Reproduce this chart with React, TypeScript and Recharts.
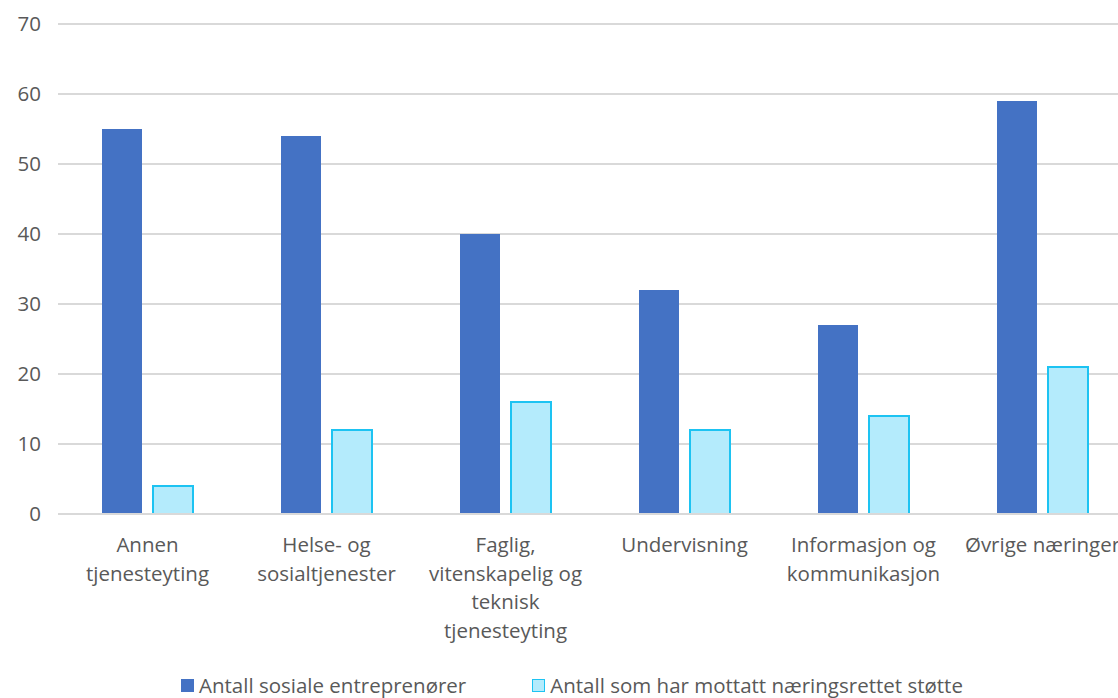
import { Bar, BarChart, CartesianGrid, Legend, XAxis, YAxis } from "recharts";

const categories = [
  "Annen\ntjenesteyting",
  "Helse- og\nsosialtjenester",
  "Faglig,\nvitenskapelig og\nteknisk\ntjenesteyting",
  "Undervisning",
  "Informasjon og\nkommunikasjon",
  "Øvrige næringer",
];
const entrepreneurs = [55, 54, 40, 32, 27, 59];
const supported = [4, 12, 16, 12, 14, 21];
const yTicks = [0, 10, 20, 30, 40, 50, 60, 70];

const seriesNames = ["Antall sosiale entreprenører", "Antall som har mottatt næringsrettet støtte"];

const data = categories.map((name, i) => ({
  name,
  entrepreneurs: entrepreneurs[i],
  supported: supported[i],
}));

const textColor = "#595959";
const font = "'Open Sans', sans-serif";
const fontSize = 20.5;

function CategoryTick(props: any) {
  const { x, y, payload } = props;
  const lines = String(payload.value).split("\n");
  return (
    <text x={x} y={y} textAnchor="middle" fill={textColor} fontSize={fontSize} fontFamily={font}>
      {lines.map((line, i) => (
        <tspan key={i} x={x} dy={i === 0 ? 30 : 28.5}>
          {line}
        </tspan>
      ))}
    </text>
  );
}

function LegendContent() {
  const swatches = [
    { fill: "#4472C4", stroke: "#4472C4" },
    { fill: "#B4EBFC", stroke: "#1DC3F2" },
  ];
  return (
    <div
      style={{
        display: "flex",
        alignItems: "center",
        height: 26,
        lineHeight: "26px",
        fontFamily: font,
        fontSize,
        color: textColor,
      }}
    >
      {seriesNames.map((label, i) => (
        <div key={label} style={{ display: "flex", alignItems: "center", marginRight: i === 0 ? 66 : 0 }}>
          <span
            style={{
              display: "inline-block",
              width: 11,
              height: 11,
              background: swatches[i].fill,
              border: `1.5px solid ${swatches[i].stroke}`,
              marginRight: 5,
            }}
          />
          <span style={{ whiteSpace: "nowrap" }}>{label}</span>
        </div>
      ))}
    </div>
  );
}

export default function App() {
  return (
    <div style={{ width: 1118, height: 698, overflow: "hidden", background: "#fff" }}>
      <style>{"body{margin:0;overflow:hidden}"}</style>
      <BarChart
        width={1150}
        height={698}
        data={data}
        margin={{ top: 24, right: 18, bottom: 0, left: 0 }}
        barCategoryGap={44}
        barGap={11}
      >
        <CartesianGrid vertical={false} stroke="#D9D9D9" strokeWidth={2} />
        <XAxis
          dataKey="name"
          interval={0}
          height={158}
          tickLine={false}
          axisLine={{ stroke: "#D9D9D9", strokeWidth: 2 }}
          tick={<CategoryTick />}
        />
        <YAxis
          width={58}
          domain={[0, 70]}
          ticks={yTicks}
          tickLine={false}
          axisLine={false}
          tickMargin={11}
          tick={{ fill: textColor, fontSize, fontFamily: font }}
        />
        <Legend
          verticalAlign="bottom"
          content={<LegendContent />}
          wrapperStyle={{ left: 181, bottom: 0, width: "auto", height: 26 }}
        />
        <Bar dataKey="entrepreneurs" name={seriesNames[0]} fill="#4472C4" isAnimationActive={false} />
        <Bar
          dataKey="supported"
          name={seriesNames[1]}
          fill="#B4EBFC"
          stroke="#1DC3F2"
          strokeWidth={2}
          isAnimationActive={false}
        />
      </BarChart>
    </div>
  );
}
